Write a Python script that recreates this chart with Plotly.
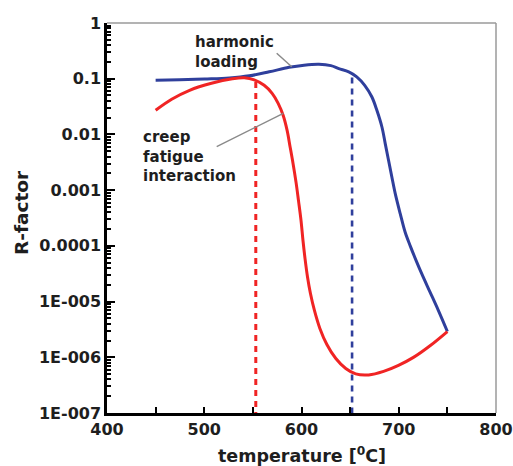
import plotly.graph_objects as go

# ---------------- data ----------------
blue_temp = [450, 474.7, 500.3, 525.8, 546.3, 566.8, 587.2, 602.6, 617.9, 630.2, 638.4, 648.6, 656.8, 665.0,
             672.4, 677.5, 682.7, 686.1, 689.5, 692.9, 696.4, 701.5, 706.6, 712.0, 718.2, 723.6, 732.2, 740.7, 750]
blue_r = [0.0936, 0.0955, 0.0988, 0.1033, 0.1127, 0.133, 0.160, 0.175, 0.1815, 0.1718, 0.152, 0.133, 0.108,
          0.0761, 0.0469, 0.0271, 0.0136, 0.00684, 0.00343, 0.00172, 8.65e-4, 3.79e-4, 1.75e-4, 9.8e-5, 5.27e-5,
          3.17e-5, 1.48e-5, 6.95e-6, 2.9e-6]

red_temp = [450, 466.5, 484.9, 507.4, 528.9, 541.2, 551.4, 561.6, 569.8, 576.0, 581.1, 585.2, 588.2, 591.3,
            594.4, 596.9, 599.5, 601.5, 603.6, 606.1, 609.2, 613.3, 618.9, 626.1, 635.3, 645.5, 655.7, 669.1,
            684.4, 699.7, 715.1, 732.5, 750]
red_r = [0.0271, 0.0427, 0.0619, 0.0827, 0.0996, 0.1038, 0.0955, 0.0761, 0.0547, 0.0362, 0.0220, 0.0118,
         0.0061, 0.00302, 0.00138, 6.5e-4, 2.87e-4, 1.26e-4, 5.97e-5, 2.83e-5, 1.40e-5, 6.95e-6, 3.30e-6,
         1.70e-6, 9.5e-7, 6.3e-7, 5.04e-7, 4.83e-7, 5.58e-7, 7.16e-7, 9.96e-7, 1.63e-6, 2.9e-6]

red_mark_temp = [553, 553]
red_mark_r = [0.087, 1e-7]
blue_mark_temp = [652, 652]
blue_mark_r = [0.105, 1e-7]

x_ticks = [400, 500, 600, 700, 800]
x_minor = [450, 550, 650, 750]
y_ticks = [1, 0.1, 0.01, 0.001, 0.0001, 1e-5, 1e-6, 1e-7]
y_ticktext = ["1", "0.1", "0.01", "0.001", "0.0001", "1E-005", "1E-006", "1E-007"]
y_minor = [k * 10.0 ** e for e in range(-7, 0) for k in range(2, 10)]

label_harmonic = "harmonic<br>loading"
label_creep = "creep<br>fatigue<br>interaction"
x_title = "temperature [<sup>0</sup>C]"
y_title = "R-factor"

# ---------------- layout geometry ----------------
W, H = 513, 466
L, R, T, B = 107, 17, 23, 53
PW, PH = W - L - R, H - T - B

def px(x):
    return (x - L) / PW

def py(y):
    return (H - B - y) / PH

BLUE = "#2F3F9C"
RED = "#F02424"
TXT = "#1e1e1e"
FONT = "DejaVu Sans"

fig = go.Figure()
fig.add_trace(go.Scatter(x=red_mark_temp, y=red_mark_r, mode="lines",
                         line=dict(color=RED, width=3, dash="6px,5px"), hoverinfo="skip"))
fig.add_trace(go.Scatter(x=blue_mark_temp, y=blue_mark_r, mode="lines",
                         line=dict(color=BLUE, width=2.6, dash="6px,5px"), hoverinfo="skip"))
fig.add_trace(go.Scatter(x=blue_temp, y=blue_r, mode="lines",
                         line=dict(color=BLUE, width=3, shape="spline", smoothing=1.0)))
fig.add_trace(go.Scatter(x=red_temp, y=red_r, mode="lines",
                         line=dict(color=RED, width=3, shape="spline", smoothing=1.0)))

fig.update_layout(
    width=W, height=H, autosize=False,
    margin=dict(l=L, r=R, t=T, b=B, pad=0, autoexpand=False),
    paper_bgcolor="white", plot_bgcolor="white",
    showlegend=False,
    font=dict(family=FONT, color=TXT),
)
fig.update_xaxes(
    range=[400, 800], tickvals=x_ticks, ticktext=[str(v) for v in x_ticks],
    ticks="inside", ticklen=6, tickwidth=2, tickcolor="black",
    showline=True, linewidth=2.5, linecolor="black", mirror=False,
    showgrid=False, zeroline=False, ticklabeloverflow="allow", automargin=False,
    tickfont=dict(family=FONT, size=16, color=TXT, weight="bold"),
    minor=dict(tickvals=x_minor, ticks="inside", ticklen=6, tickwidth=2, tickcolor="black"),
)
fig.update_yaxes(
    type="log", range=[-7, 0], tickvals=y_ticks, ticktext=y_ticktext,
    ticks="inside", ticklen=8, tickwidth=2, tickcolor="black",
    showline=True, linewidth=2.5, linecolor="black", mirror=False,
    showgrid=False, zeroline=False, ticklabeloverflow="allow", automargin=False,
    tickfont=dict(family=FONT, size=16, color=TXT, weight="bold"),
    minor=dict(tickvals=y_minor, ticks="inside", ticklen=4, tickwidth=1.5, tickcolor="black"),
)

# frame top/right (thin gray)
fig.add_shape(type="line", xref="paper", yref="paper", x0=0, x1=1, y0=1, y1=1,
              line=dict(color="#9a9a9a", width=1.5))
fig.add_shape(type="line", xref="paper", yref="paper", x0=1, x1=1, y0=0, y1=1,
              line=dict(color="#9a9a9a", width=1.5))
# label leader lines
fig.add_shape(type="line", xref="paper", yref="paper", x0=px(276.7), y0=py(53.3), x1=px(291.7), y1=py(66.7),
              line=dict(color="#8a8a8a", width=1.5))
fig.add_shape(type="line", xref="paper", yref="paper", x0=px(216.7), y0=py(146.7), x1=px(283.3), y1=py(113.3),
              line=dict(color="#8a8a8a", width=1.5))

fig.add_annotation(text=label_harmonic, xref="paper", yref="paper", x=px(193), y=py(52),
                   xanchor="left", yanchor="middle", align="left", showarrow=False,
                   font=dict(family=FONT, size=15, color=TXT, weight="bold"))
fig.add_annotation(text=label_creep, xref="paper", yref="paper", x=px(141), y=py(156.5),
                   xanchor="left", yanchor="middle", align="left", showarrow=False,
                   font=dict(family=FONT, size=15, color=TXT, weight="bold"))
fig.add_annotation(text=x_title, xref="paper", yref="paper", x=px(302), y=py(455),
                   xanchor="center", yanchor="middle", showarrow=False,
                   font=dict(family=FONT, size=17.5, color=TXT, weight="bold"))
fig.add_annotation(text=y_title, xref="paper", yref="paper", x=px(21), y=py(213),
                   xanchor="center", yanchor="middle", showarrow=False, textangle=-90,
                   font=dict(family=FONT, size=18.5, color=TXT, weight="bold"))

fig.write_html("out.html")
